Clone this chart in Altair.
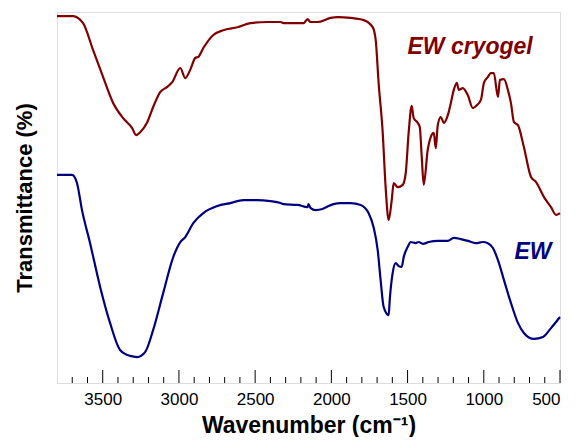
import altair as alt
import pandas as pd

# EW cryogel spectrum (wavenumber cm-1, transmittance, arbitrary %)
cryo_wn = [3800, 3695, 3629, 3563, 3498, 3432, 3366, 3307, 3281, 3254, 3208, 3169, 3123, 3077, 3044,
           2991, 2959, 2926, 2893, 2873, 2840, 2774, 2709, 2617, 2531, 2419, 2334, 2314, 2183, 2156,
           2137, 2091, 2005, 1959, 1874, 1788, 1729, 1709, 1690, 1663, 1644, 1624, 1604, 1591, 1565,
           1532, 1512, 1493, 1473, 1460, 1433, 1420, 1407, 1394, 1368, 1348, 1328, 1315, 1302, 1282,
           1262, 1236, 1216, 1197, 1177, 1164, 1138, 1105, 1072, 1045, 1019, 999, 973, 954, 934,
           907, 894, 868, 842, 822, 802, 776, 737, 690, 658, 605, 559, 526, 500]
cryo_t = [98.9, 98.9, 97.0, 89.7, 82.5, 75.5, 71.4, 68.7, 66.8, 67.6, 70.3, 74.4, 78.4, 79.8, 81.1,
          84.9, 82.2, 84.4, 87.6, 87.9, 90.3, 93.8, 95.1, 95.9, 97.0, 97.3, 97.3, 97.0, 97.0, 98.1,
          97.3, 97.3, 98.4, 98.6, 98.4, 97.8, 95.9, 92.4, 80.9, 67.4, 52.8, 43.9, 49.3, 53.9, 52.8,
          53.4, 56.6, 67.4, 74.7, 71.4, 70.1, 69.0, 60.9, 53.4, 62.8, 66.3, 67.4, 63.3, 69.5, 71.7,
          70.1, 72.2, 75.5, 79.0, 80.9, 79.0, 79.5, 77.6, 74.1, 74.9, 76.3, 80.9, 82.5, 83.5, 83.5,
          77.1, 81.7, 81.9, 79.0, 75.5, 70.3, 69.5, 63.6, 55.5, 54.2, 50.1, 47.4, 45.3, 45.8]

# EW spectrum
ew_wn = [3800, 3701, 3669, 3636, 3583, 3517, 3452, 3386, 3320, 3274, 3221, 3169, 3103, 3037, 2991,
         2959, 2906, 2840, 2748, 2663, 2577, 2485, 2400, 2334, 2314, 2222, 2156, 2150, 2137, 2104,
         2058, 2018, 1986, 1940, 1874, 1808, 1756, 1723, 1696, 1677, 1657, 1624, 1617, 1598, 1578,
         1558, 1539, 1525, 1499, 1479, 1447, 1427, 1400, 1361, 1302, 1236, 1197, 1151, 1105, 1052,
         1006, 973, 940, 907, 868, 822, 776, 737, 671, 612, 559, 500]
ew_t = [56.1, 56.1, 53.9, 46.6, 37.7, 25.9, 16.2, 8.9, 7.3, 7.0, 8.4, 14.3, 24.3, 34.0, 38.0,
        39.3, 43.1, 45.8, 47.7, 48.5, 49.3, 49.3, 49.0, 48.5, 48.2, 48.0, 47.4, 48.2, 47.2, 46.6,
        46.9, 47.7, 48.2, 48.5, 48.5, 48.0, 45.8, 42.0, 35.8, 27.8, 20.5, 18.3, 22.4, 29.6, 32.3,
        31.5, 31.3, 34.0, 36.7, 38.0, 37.7, 38.0, 37.5, 38.0, 38.3, 38.3, 39.1, 38.8, 38.3, 37.7,
        38.0, 37.7, 36.4, 33.1, 27.8, 21.6, 16.2, 13.5, 11.9, 12.4, 14.8, 17.8]

major_ticks = [3500, 3000, 2500, 2000, 1500, 1000, 500]
minor_ticks = [w for w in range(3700, 500, -100) if w not in major_ticks]

labels = ["EW cryogel", "EW"]
label_wn = [1090, 677]
label_t = [90.6, 35.3]
label_colors = ["#800000", "#000080"]

W, H = 503, 371
FONT = "Liberation Sans"

df = pd.concat([
    pd.DataFrame({"wn": cryo_wn, "t": cryo_t, "s": "EW cryogel", "i": range(len(cryo_wn))}),
    pd.DataFrame({"wn": ew_wn, "t": ew_t, "s": "EW", "i": range(len(ew_wn))}),
])

xscale = alt.Scale(domain=[500, 3800], reverse=True, nice=False, zero=False)
yscale = alt.Scale(domain=[0, 100], nice=False, zero=False)

lines = alt.Chart(df).mark_line(strokeWidth=2.2, interpolate="monotone").encode(
    x=alt.X("wn:Q", scale=xscale,
            axis=alt.Axis(title="Wavenumber (cm\u207b\u00b9)", values=major_ticks, format="d",
                          ticks=False, tickSize=0, domain=False, grid=False,
                          labelFontSize=17, labelPadding=8, labelColor="black", labelFont=FONT,
                          titleFontSize=23, titleFontWeight="bold", titleFont=FONT,
                          titleColor="black", titlePadding=7)),
    y=alt.Y("t:Q", scale=yscale,
            axis=alt.Axis(title="Transmittance (%)", labels=False, ticks=False, tickSize=0,
                          domain=False, grid=False, titleFontSize=22, titleFontWeight="bold",
                          titleFont=FONT, titleColor="black", titlePadding=21)),
    color=alt.Color("s:N", scale=alt.Scale(domain=labels, range=label_colors), legend=None),
    detail="s:N",
    order=alt.Order("i:Q"),
)

major = alt.Chart(pd.DataFrame({"wn": major_ticks})).mark_rule(color="black", strokeWidth=1).encode(
    x=alt.X("wn:Q", scale=xscale), y=alt.value(H), y2=alt.value(H - 13))
minor = alt.Chart(pd.DataFrame({"wn": minor_ticks})).mark_rule(color="black", strokeWidth=1).encode(
    x=alt.X("wn:Q", scale=xscale), y=alt.value(H), y2=alt.value(H - 6))

texts = alt.Chart(pd.DataFrame({"lab": labels, "wn": label_wn, "t": label_t})).mark_text(
    font=FONT, fontSize=23, fontWeight="bold", fontStyle="italic", align="center",
    baseline="middle").encode(
    x=alt.X("wn:Q", scale=xscale), y=alt.Y("t:Q", scale=yscale), text="lab:N",
    color=alt.Color("lab:N", scale=alt.Scale(domain=labels, range=label_colors), legend=None))

chart = alt.layer(lines, major, minor, texts).properties(
    width=W, height=H,
    autosize=alt.AutoSizeParams(type="none"),
    padding={"left": 49, "top": 4, "right": 8, "bottom": 54},
).configure_view(stroke="black", strokeWidth=1.2).configure(background="white")

chart.save("out.html", embed_options={"renderer": "svg", "actions": False})
